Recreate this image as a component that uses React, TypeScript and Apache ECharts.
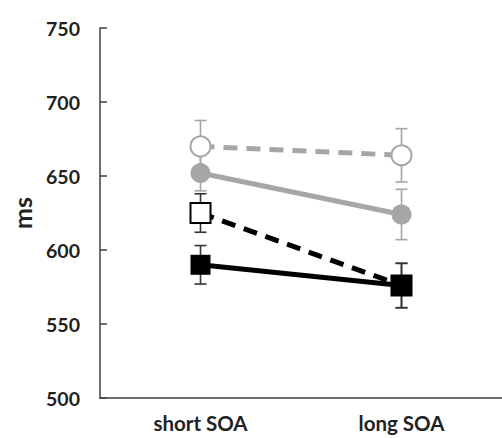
import React, { useEffect, useRef } from "react";
import * as echarts from "echarts";

const categories = ["short SOA", "long SOA"];
const yTicks = { min: 500, max: 750, step: 50 };

const openCircle = [670, 664];
const openCircleErr = [17.5, 18];
const filledCircle = [652, 624];
const filledCircleErr = [12, 17];
const openSquare = [625, 576];
const openSquareErr = [13, 15];
const filledSquare = [590, 576];
const filledSquareErr = [13, 15];

const GRAY = "#A6A6A6";
const BLACK = "#000000";
const FONT = "Lato";

function errData(vals: number[], errs: number[]) {
  return vals.map((v, i) => [i, v - errs[i], v + errs[i]]);
}

function errSeries(vals: number[], errs: number[], color: string) {
  return {
    type: "custom",
    z: 1,
    silent: true,
    encode: { x: 0, y: [1, 2] },
    data: errData(vals, errs),
    renderItem: (params: any, api: any) => {
      const x = api.value(0);
      const lo = api.coord([x, api.value(1)]);
      const hi = api.coord([x, api.value(2)]);
      const hw = 6;
      const style = { stroke: color, lineWidth: 1.6 };
      return {
        type: "group",
        children: [
          { type: "line", shape: { x1: lo[0], y1: lo[1], x2: hi[0], y2: hi[1] }, style },
          { type: "line", shape: { x1: lo[0] - hw, y1: lo[1], x2: lo[0] + hw, y2: lo[1] }, style },
          { type: "line", shape: { x1: hi[0] - hw, y1: hi[1], x2: hi[0] + hw, y2: hi[1] }, style },
        ],
      };
    },
  };
}

function lineSeries(
  data: number[],
  color: string,
  symbol: string,
  filled: boolean,
  dashed: boolean,
  z: number
) {
  return {
    type: "line",
    data,
    z,
    symbol,
    symbolSize: 20,
    showSymbol: true,
    lineStyle: { color, width: 5, type: dashed ? [14, 9] : "solid" },
    itemStyle: {
      color: filled ? color : "#ffffff",
      borderColor: color,
      borderWidth: filled ? 0 : 2,
    },
    emphasis: { disabled: true },
  };
}

export default function App() {
  const ref = useRef<HTMLDivElement>(null);
  useEffect(() => {
    if (!ref.current) return;
    const chart = echarts.init(ref.current, undefined, { renderer: "svg" });
    chart.setOption({
      animation: false,
      backgroundColor: "#ffffff",
      grid: { left: 100, top: 28, bottom: 40, right: -8, containLabel: false },
      xAxis: {
        type: "category",
        data: categories,
        boundaryGap: true,
        axisLine: { lineStyle: { color: "#404040", width: 1.5 } },
        axisTick: { inside: true, length: 6, lineStyle: { color: "#404040", width: 1.5 } },
        axisLabel: {
          fontFamily: FONT,
          fontWeight: "bold",
          fontSize: 20.5,
          color: "#222",
          margin: 14,
        },
      },
      yAxis: {
        type: "value",
        min: yTicks.min,
        max: yTicks.max,
        interval: yTicks.step,
        name: "ms",
        nameLocation: "middle",
        nameGap: 66,
        nameTextStyle: { fontFamily: FONT, fontWeight: "bold", fontSize: 25, color: "#222" },
        axisLine: { show: true, lineStyle: { color: "#404040", width: 1.5 } },
        axisTick: { show: true, inside: true, length: 7, lineStyle: { color: "#404040", width: 1.5 } },
        splitLine: { show: false },
        axisLabel: {
          fontFamily: FONT,
          fontWeight: "bold",
          fontSize: 19.5,
          color: "#222",
          margin: 20,
        },
      },
      series: [
        errSeries(openCircle, openCircleErr, GRAY),
        errSeries(filledCircle, filledCircleErr, GRAY),
        errSeries(openSquare, openSquareErr, "#333"),
        errSeries(filledSquare, filledSquareErr, "#333"),
        lineSeries(openCircle, GRAY, "circle", false, true, 2),
        lineSeries(filledCircle, GRAY, "circle", true, false, 3),
        lineSeries(openSquare, BLACK, "rect", false, true, 4),
        lineSeries(filledSquare, BLACK, "rect", true, false, 5),
      ],
    });
    return () => chart.dispose();
  }, []);
  return (
    <div
      ref={ref}
      style={{ position: "fixed", left: 0, top: 0, width: 502, height: 438, background: "#fff" }}
    />
  );
}
